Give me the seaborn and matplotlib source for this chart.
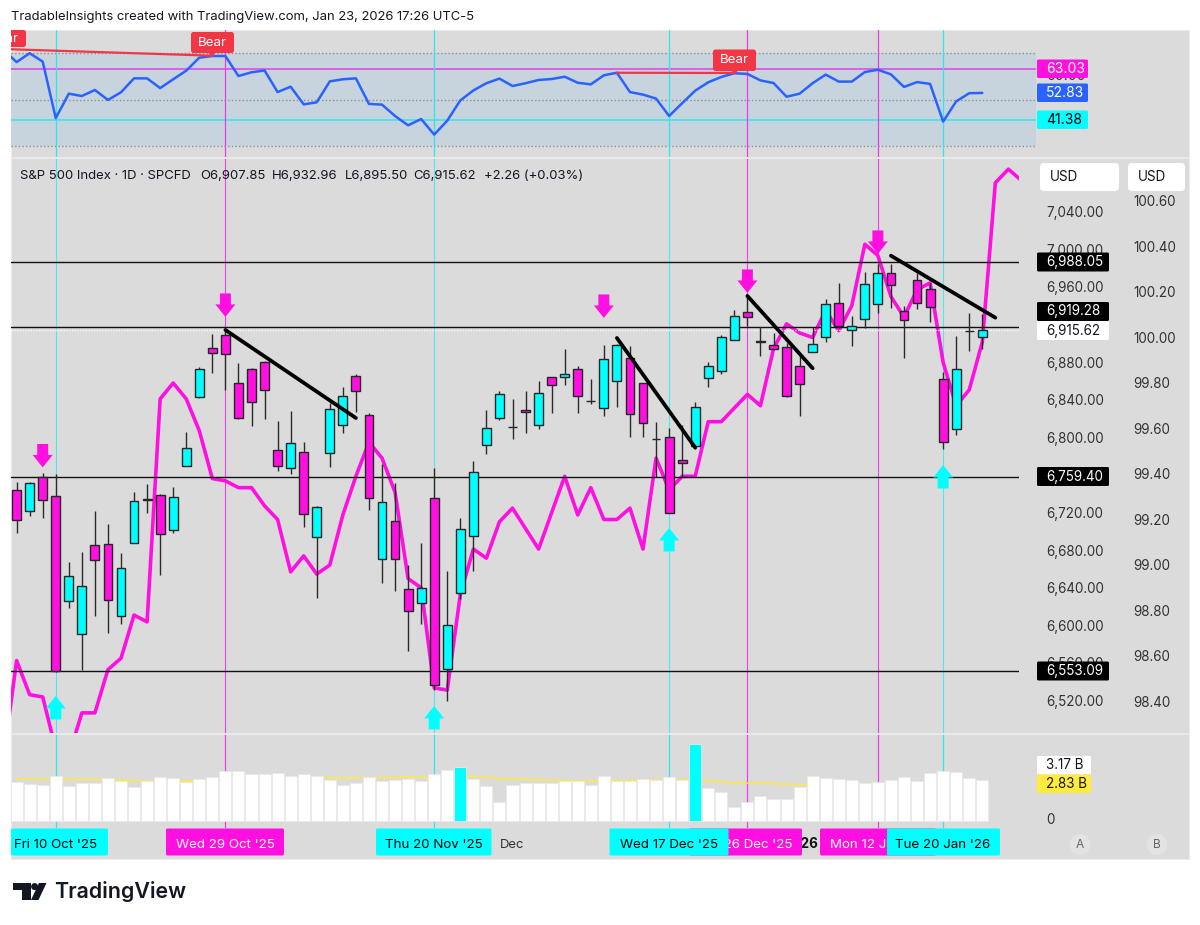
import numpy as np
import pandas as pd
import seaborn as sns
import matplotlib
matplotlib.use('Agg')
import matplotlib.pyplot as plt
from matplotlib.patches import Rectangle, FancyBboxPatch, Polygon, Circle

# daily candles, index 0 = first visible bar
opens = [6745.6, 6723.3, 6759.4, 6739.2, 6627.5, 6592.4, 6687.1, 6688.2, 6611.6, 6689.2,
         6735.8, 6740.3, 6703.0, 6771.1, 6844.5, 6896.6, 6910.4, 6859.4, 6874.3, 6881.7,
         6788.1, 6769.0, 6786.0, 6695.6, 6784.9, 6814.7, 6866.8, 6825.3, 6672.2, 6712.6,
         6640.3, 6625.4, 6737.1, 6555.2, 6636.0, 6696.7, 6793.4, 6822.2, 6812.9, 6830.5,
         6814.7, 6865.8, 6865.8, 6874.3, 6840.5, 6832.8, 6861.5, 6886.0, 6859.4, 6800.1,
         6802.0, 6777.5, 6792.4, 6864.7, 6872.1, 6905.1, 6934.9, 6903.0, 6899.8, 6897.7,
         6877.5, 6892.3, 6908.3, 6944.5, 6915.7, 6927.4, 6943.4, 6976.4, 6936.0, 6968.9,
         6959.3, 6863.6, 6810.5, 6914.9, 6907.85]
highs = [6754.1, 6754.1, 6763.7, 6762.6, 6669.0, 6679.6, 6723.3, 6709.4, 6678.6, 6743.5,
         6752.0, 6741.3, 6748.8, 6807.3, 6876.4, 6911.5, 6916.8, 6880.6, 6875.0, 6882.5,
         6819.0, 6829.6, 6796.6, 6728.6, 6838.1, 6855.1, 6869.0, 6827.5, 6773.2, 6753.0,
         6665.8, 6689.2, 6769.0, 6659.4, 6715.8, 6776.4, 6830.7, 6850.9, 6842.4, 6850.9,
         6861.5, 6865.8, 6895.5, 6877.5, 6863.6, 6899.8, 6900.9, 6898.7, 6859.4, 6817.9,
         6811.5, 6814.7, 6839.2, 6881.7, 6910.4, 6937.0, 6951.9, 6918.9, 6912.6, 6901.9,
         6889.2, 6918.9, 6948.7, 6965.7, 6930.6, 6977.4, 6985.9, 6985.9, 6941.3, 6976.4,
         6965.7, 6871.1, 6909.4, 6933.8, 6932.96]
lows = [6699.9, 6717.9, 6715.8, 6552.0, 6620.1, 6554.2, 6611.6, 6593.5, 6603.1, 6689.2,
        6721.1, 6655.2, 6699.9, 6771.1, 6843.4, 6870.0, 6851.9, 6821.1, 6813.6, 6821.1,
        6765.8, 6762.6, 6706.2, 6630.7, 6770.0, 6806.2, 6828.5, 6724.3, 6646.7, 6638.2,
        6574.4, 6603.1, 6532.9, 6521.2, 6629.7, 6659.4, 6783.9, 6820.0, 6799.8, 6806.2,
        6810.5, 6827.5, 6857.3, 6827.5, 6837.0, 6824.3, 6833.9, 6802.0, 6802.0, 6759.4,
        6721.1, 6759.4, 6789.2, 6855.1, 6869.0, 6905.1, 6920.0, 6888.1, 6895.5, 6844.5,
        6824.3, 6892.0, 6903.0, 6917.9, 6898.7, 6917.9, 6933.8, 6939.1, 6886.0, 6938.1,
        6924.3, 6789.2, 6804.1, 6893.4, 6895.50]
closes = [6713.7, 6753.0, 6734.9, 6552.6, 6654.1, 6643.5, 6671.1, 6628.6, 6662.6, 6733.9,
          6735.2, 6698.8, 6738.1, 6790.3, 6874.3, 6891.3, 6890.2, 6822.2, 6839.2, 6851.9,
          6771.1, 6795.6, 6720.1, 6727.5, 6831.7, 6845.6, 6850.9, 6737.1, 6732.8, 6672.2,
          6616.9, 6641.4, 6538.2, 6602.0, 6704.1, 6764.7, 6811.5, 6847.7, 6812.3, 6828.7,
          6848.8, 6857.3, 6869.0, 6845.6, 6839.9, 6884.9, 6899.8, 6826.4, 6816.8, 6799.5,
          6721.1, 6774.3, 6833.9, 6877.5, 6908.3, 6930.6, 6929.6, 6904.0, 6895.5, 6845.6,
          6858.3, 6900.9, 6943.4, 6920.0, 6920.0, 6964.7, 6976.4, 6963.6, 6926.4, 6944.5,
          6940.2, 6796.6, 6874.3, 6914.5, 6915.62]

# oscillator from index -1
rsi = [71.3, 66.1, 69.9, 66.3, 42.0, 52.5, 51.5, 54.1, 49.8, 53.1,
       59.1, 59.1, 54.9, 58.7, 62.4, 68.0, 68.7, 68.7, 60.1, 61.7,
       62.5, 53.2, 55.5, 47.9, 48.8, 57.8, 58.7, 59.1, 48.1, 47.8,
       42.9, 38.9, 41.6, 34.9, 40.9, 49.6, 53.9, 57.0, 59.0, 55.8,
       57.0, 58.4, 58.8, 59.8, 57.2, 56.5, 60.4, 61.5, 53.2, 52.1,
       50.4, 42.9, 48.4, 53.8, 57.4, 59.7, 61.3, 61.0, 58.2, 57.1,
       51.2, 52.5, 57.0, 60.7, 57.7, 57.7, 61.8, 62.8, 60.8, 55.4,
       57.5, 56.7, 40.5, 49.2, 52.7, 52.83]

# second scale line from index -1 to 77
overlay_line = [98.15, 98.58, 98.43, 98.42, 98.19, 98.16, 98.35, 98.35, 98.54, 98.59,
                98.78, 98.75, 99.73, 99.80, 99.73, 99.59, 99.38, 99.37, 99.34, 99.34,
                99.26, 99.20, 98.97, 99.04, 98.96, 99.00, 99.22, 99.39, 99.54, 99.47,
                99.32, 98.94, 98.90, 98.46, 98.45, 98.87, 99.07, 99.03, 99.19, 99.25,
                99.16, 99.07, 99.23, 99.39, 99.22, 99.34, 99.20, 99.20, 99.25, 99.07,
                99.47, 99.33, 99.39, 99.39, 99.63, 99.63, 99.69, 99.75, 99.70, 99.95,
                100.06, 100.02, 100.00, 100.12, 100.03, 100.14, 100.41, 100.36, 100.18, 100.09,
                100.21, 100.24, 99.89, 99.70, 99.77, 99.98, 100.68, 100.74, 100.69]

# volume in billions
volume = [2.99, 2.84, 2.73, 3.45, 2.68, 2.89, 2.89, 3.27, 3.07, 2.58,
          3.07, 3.38, 3.27, 2.99, 3.20, 3.35, 3.84, 3.81, 3.58, 3.63,
          3.69, 3.45, 3.56, 3.45, 3.12, 2.76, 2.91, 3.35, 3.07, 3.12,
          3.22, 3.09, 3.63, 3.94, 4.10, 3.20, 2.63, 1.44, 2.73, 2.89,
          2.91, 2.91, 3.04, 3.09, 2.73, 3.43, 3.07, 3.07, 3.20, 3.12,
          3.38, 3.17, 5.90, 2.53, 2.19, 1.03, 1.42, 1.93, 1.70, 1.65,
          2.58, 3.43, 3.25, 3.20, 3.12, 2.91, 2.99, 3.17, 3.35, 3.09,
          3.71, 3.84, 3.76, 3.25, 3.17]
volume_ma = [3.20, 3.20, 3.17, 3.17, 3.17, 3.17, 3.17, 3.17, 3.12, 3.09,
             3.04, 3.04, 3.04, 3.04, 3.04, 3.12, 3.20, 3.22, 3.25, 3.27,
             3.30, 3.30, 3.30, 3.30, 3.30, 3.30, 3.30, 3.30, 3.30, 3.32,
             3.35, 3.35, 3.35, 3.35, 3.43, 3.40, 3.35, 3.25, 3.20, 3.17,
             3.14, 3.12, 3.09, 3.07, 3.04, 3.04, 3.09, 3.09, 3.12, 3.12,
             3.14, 3.14, 3.17, 3.07, 2.99, 2.91, 2.89, 2.89, 2.86, 2.81,
             2.78, 2.78, 2.78, 2.81, 2.81, 2.81, 2.81, 2.81, 2.81, 2.81,
             2.84, 2.84, 2.84, 2.84, 2.83]
high_volume_bars = [34, 52]

cyan_days = [3, 32, 50, 71]
magenta_days = [16, 56, 66]
price_levels = [6988.05, 6919.28, 6759.40, 6553.09]
last_close = 6915.62
rsi_levels = [70, 50, 30]
price_ticks = [7040, 7000, 6960, 6920, 6880, 6840, 6800, 6760, 6720, 6680, 6640, 6600, 6560, 6520]
second_ticks = [100.6, 100.4, 100.2, 100.0, 99.8, 99.6, 99.4, 99.2, 99.0, 98.8, 98.6, 98.4]

down_arrows = [(2, 6769.5), (16, 6929.6), (45, 6928.5), (56, 6955.1), (66, 6996.6)]
up_arrows = [(3, 6526.5), (32, 6515.9), (50, 6705.2), (71, 6772.1)]
trend_lines = [((16, 6915.7), (26, 6822.1)), ((46, 6907.2), (52, 6790.6)),
               ((56, 6951.9), (61, 6875.0)), ((67, 6994.7), (75, 6928.8))]
bear_lines = [((-1, 71.7), (15, 68.85)), ((46, 61.5), (55, 61.4))]

BG = '#dbdbdb'
CYAN = '#00ffff'
MAGENTA = '#ff10e0'
BLUE = '#2962ff'
RED = '#f23645'
YELLOW = '#ffeb3b'
BAND = '#c7d3dd'
INK = '#131722'
AXTXT = '#333333'

sns.set_theme(style='white')
plt.rcParams['font.family'] = ['Inter', 'DejaVu Sans']

W, H = 1200, 925
fig = plt.figure(figsize=(W / 100, H / 100), dpi=100, facecolor='white')
fig.add_artist(Rectangle((11 / W, 1 - 859 / H), 1178 / W, 829.5 / H, transform=fig.transFigure,
                         facecolor=BG, edgecolor='#ececec', lw=0.8, zorder=-1))


def pane(x0, y0, x1, y1):
    ax = fig.add_axes([x0 / W, 1 - y1 / H, (x1 - x0) / W, (y1 - y0) / H])
    ax.patch.set_visible(False)
    return ax


def bare(ax):
    sns.despine(ax=ax, left=True, right=True, top=True, bottom=True)
    ax.set_xlabel('')
    ax.set_ylabel('')
    ax.set_xticks([])


# bar index <-> pixel: x = 16.6 + 13.05 * i
xlim_main = ((11 - 16.6) / 13.05, (1019 - 16.6) / 13.05)
xlim_rsi = ((11 - 16.6) / 13.05, (1036 - 16.6) / 13.05)

# ---- RSI pane
ax_rsi = pane(11, 30, 1036, 157)
ax_rsi.axhspan(30, 70, color=BAND, lw=0, zorder=0)
for lv in rsi_levels:
    ax_rsi.axhline(lv, color='#8a8f96', lw=1, ls=(0, (1, 1.6)), zorder=1)
ax_rsi.axhline(63.03, color='#e040e6', lw=1.1, zorder=1.5)
ax_rsi.axhline(41.38, color='#2ee6ec', lw=1.1, zorder=1.5)
for d in cyan_days:
    ax_rsi.axvline(d, color='#2ee6ec', lw=0.9, zorder=1.6)
for d in magenta_days:
    ax_rsi.axvline(d, color='#e83ce6', lw=0.9, zorder=1.6)
sns.lineplot(x=np.arange(-1, 75), y=rsi, ax=ax_rsi, color=BLUE, lw=1.8, errorbar=None, zorder=3)
for (a, b) in bear_lines:
    ax_rsi.plot([a[0], b[0]], [a[1], b[1]], color=RED, lw=1.6, zorder=4)
ax_rsi.set_xlim(*xlim_rsi)
ax_rsi.set_ylim(30 - 11 / 2.325, 70 + 23 / 2.325)
bare(ax_rsi)
ax_rsi.set_yticks([])

# ---- price pane: second scale underneath so candles stay on top
ax_sec = pane(11, 158, 1019, 733)
for d in cyan_days:
    ax_sec.axvline(d, color='#4ee8ee', lw=0.8, zorder=1)
for d in magenta_days:
    ax_sec.axvline(d, color='#f23ce6', lw=0.8, zorder=1)
sns.lineplot(x=np.arange(-1, 78), y=overlay_line, ax=ax_sec, color=MAGENTA, lw=2.6,
             errorbar=None, zorder=2)
ax_sec.set_xlim(*xlim_main)
ax_sec.set_ylim(100.6 - 532 / 227.5, 100.6 + 43 / 227.5)
bare(ax_sec)

ax_price = ax_sec.twinx()
ax_price.patch.set_visible(False)
# twinx moves the first axis' ticks to the left, so set them on the right afterwards
ax_sec.yaxis.tick_right()
ax_sec.set_yticks(second_ticks, [f'{t:.2f}' for t in second_ticks])
ax_sec.tick_params(axis='y', length=0, pad=82, labelsize=9.7, labelcolor=AXTXT)
for lv in price_levels:
    ax_price.axhline(lv, color='#111111', lw=1.0, zorder=1)
ax_price.axhline(last_close, color='white', lw=0.9, ls=(0, (1, 1.2)), zorder=1)

idx = np.arange(len(closes))
o = np.array(opens)
c = np.array(closes)
colors = [CYAN if c[i] >= o[i] else MAGENTA for i in idx]
ax_price.vlines(idx, lows, highs, color='#2a2a2a', lw=1.0, zorder=3)
ax_price.bar(idx, np.abs(c - o), bottom=np.minimum(o, c), width=0.68, color=colors,
             edgecolor='#262626', lw=1.0, zorder=4)

# arrow sizes are pixels turned into bars / price points
dx_head, dx_shaft = 10 / 13.05, 5.5 / 13.05
dy_head, dy_total = 12.5 * 1.0635, 23.5 * 1.0635
for i, tip in down_arrows:
    ax_price.add_patch(Polygon([(i, tip), (i - dx_head, tip + dy_head), (i - dx_shaft, tip + dy_head),
                                (i - dx_shaft, tip + dy_total), (i + dx_shaft, tip + dy_total),
                                (i + dx_shaft, tip + dy_head), (i + dx_head, tip + dy_head)],
                               color=MAGENTA, lw=0, zorder=5))
for i, tip in up_arrows:
    ax_price.add_patch(Polygon([(i, tip), (i - dx_head, tip - dy_head), (i - dx_shaft, tip - dy_head),
                                (i - dx_shaft, tip - dy_total), (i + dx_shaft, tip - dy_total),
                                (i + dx_shaft, tip - dy_head), (i + dx_head, tip - dy_head)],
                               color=CYAN, lw=0, zorder=5))
for (a, b) in trend_lines:
    ax_price.plot([a[0], b[0]], [a[1], b[1]], color='black', lw=2.7, solid_capstyle='round', zorder=6)

ax_price.set_xlim(*xlim_main)
ax_price.set_ylim(6487.1, 7098.6)
sns.despine(ax=ax_price, left=True, right=True, top=True, bottom=True)
ax_price.set_ylabel('')
ax_price.set_yticks(price_ticks, [f'{t:,.2f}' for t in price_ticks])
ax_price.tick_params(axis='y', length=0, pad=19.4, labelsize=9.7, labelcolor=AXTXT)
for t in ax_price.get_yticklabels():
    t.set_verticalalignment('center')

# ---- volume pane
ax_vol = pane(11, 734, 1019, 828)
for d in cyan_days:
    ax_vol.axvline(d, color='#2ee6ec', lw=0.9, zorder=0.4)
for d in magenta_days:
    ax_vol.axvline(d, color='#f23ce6', lw=0.9, zorder=0.4)
sns.lineplot(x=idx, y=volume_ma, ax=ax_vol, color=YELLOW, lw=1.1, errorbar=None, zorder=0.5)
vol_df = pd.DataFrame({'bar': idx, 'volume': volume,
                       'kind': ['high' if i in high_volume_bars else 'normal' for i in idx]})
sns.barplot(data=vol_df, x='bar', y='volume', hue='kind', palette={'high': CYAN, 'normal': 'white'},
            dodge=False, native_scale=True, width=0.92, saturation=1, legend=False, ax=ax_vol,
            edgecolor='#e9e9e9', linewidth=0.6, zorder=2)
ax_vol.set_xlim(*xlim_main)
ax_vol.set_ylim(-7.5 / 12.93, 86.5 / 12.93)
bare(ax_vol)
ax_vol.set_yticks([])

# ---- pixel overlay for tags, labels and logo
ov = fig.add_axes([0, 0, 1, 1], zorder=10)
ov.set_xlim(0, W)
ov.set_ylim(H, 0)
ov.axis('off')
ov.patch.set_visible(False)


def box(x0, y0, x1, y1, face, z=2, r=1.5, edge='none'):
    p = FancyBboxPatch((x0 + r, y0 + r), x1 - x0 - 2 * r, y1 - y0 - 2 * r,
                       boxstyle=f'round,pad={r},rounding_size={r}', fc=face, ec=edge, lw=0.6, zorder=z)
    ov.add_patch(p)
    return p


def label(x, y, s, color=INK, size=9.7, ha='left', z=3, **kw):
    return ov.text(x, y, s, color=color, fontsize=size, ha=ha, va='center', zorder=z, **kw)


def tag(x0, y0, x1, y1, face, s, color, tx, z=2, ha='left', size=9.7):
    box(x0, y0, x1, y1, face, z=z)
    label(tx, (y0 + y1) / 2, s, color=color, z=z + 0.1, ha=ha, size=size)


# pane separators
for y in (157.5, 733.5):
    ov.plot([11, 1189], [y, y], color='#ececec', lw=1.2, zorder=1)

label(11, 17, 'TradableInsights created with TradingView.com, Jan 23, 2026 17:26 UTC-5', size=9.4)

for x, s in [(20, 'S&P 500 Index · 1D · SPCFD'), (200, 'O6,907.85'), (272, 'H6,932.96'),
             (345, 'L6,895.50'), (413, 'C6,915.62'), (484, '+2.26 (+0.03%)')]:
    label(x, 176, s, size=9.45)

# rsi tags
label(1046, 76.5, '60.00', color=AXTXT, size=10, z=1.5)
tag(1037, 59.5, 1088, 78, MAGENTA, '63.03', 'white', 1046, size=10)
tag(1037, 83.5, 1088, 102, BLUE, '52.83', 'white', 1046, size=10)
tag(1037, 110.5, 1088, 129, CYAN, '41.38', 'black', 1046, size=10)

# bear callouts
clip = Rectangle((11, 30), 1178, 127, transform=ov.transData)
for (x0, y0, x1, y1, tip_x, tip_y) in [(-17, 30, 26, 47, None, None), (191, 32, 234, 53, 212, 56.5),
                                       (713, 49.5, 756, 71, 734.5, 73.5)]:
    b = box(x0, y0, x1, y1, RED, z=4, r=2.5)
    b.set_clip_path(clip)
    if tip_x is not None:
        ov.add_patch(Polygon([(tip_x - 4, y1 - 0.5), (tip_x + 4, y1 - 0.5), (tip_x, tip_y)], color=RED, lw=0, zorder=4))
    t = label((x0 + x1) / 2, (y0 + y1) / 2, 'Bear', color='white', ha='center', size=9.6, z=4.1)
    t.set_clip_path(clip)

# price tags
for y, s in [(262, '6,988.05'), (311.5, '6,919.28'), (476.5, '6,759.40'), (671, '6,553.09')]:
    tag(1037, y - 9.5, 1109, y + 9.5, 'black', s, 'white', 1046)
tag(1037, 321, 1109, 340, 'white', '6,915.62', INK, 1046)

# currency buttons
box(1040, 163, 1119, 191, 'white', r=4)
box(1128, 163, 1185, 191, 'white', r=4)
label(1050, 177, 'USD')
label(1138, 177, 'USD')

# volume tags
tag(1037, 756, 1091, 774.5, 'white', '3.17 B', INK, 1046)
tag(1037, 774.5, 1091, 793, YELLOW, '2.83 B', INK, 1046)
label(1046, 820, '0', color=AXTXT)

# time axis
label(500, 845, 'Dec', color=AXTXT, size=9.4)
label(801, 844.5, '2026', color='#111111', ha='center', weight='bold', z=4)
for x0, x1, face, s, col, cx, z in [
        (-5, 108, CYAN, "Fri 10 Oct '25", 'black', 56, 5),
        (166, 284, MAGENTA, "Wed 29 Oct '25", 'white', 225.5, 5),
        (376, 491.5, CYAN, "Thu 20 Nov '25", 'black', 434, 5),
        (689, 802, MAGENTA, "Fri 26 Dec '25", 'white', 748, 5),
        (609.5, 728.5, CYAN, "Wed 17 Dec '25", 'black', 669, 6),
        (820, 936, MAGENTA, "Mon 12 Jan '26", 'white', 878, 5),
        (887, 1000, CYAN, "Tue 20 Jan '26", 'black', 943, 6)]:
    p = box(max(x0, 11), 828.5, x1, 855.5, face, z=z)
    label(cx, 844.5, s, color=col, ha='center', z=z + 0.1, size=9.6)

for x, s in [(1080, 'A'), (1157, 'B')]:
    ov.add_patch(Circle((x, 844.5), 10.5, fc='#e3e3e3', ec='none', zorder=2))
    label(x, 844.5, s, color='#666666', ha='center', size=8.6)

# logo
ov.add_patch(Polygon([(13, 883), (30.5, 883), (30.5, 900), (22, 900), (22, 890), (13, 890)], color=INK, lw=0))
ov.add_patch(Circle((34.6, 886.6), 3.5, color=INK, lw=0))
ov.add_patch(Polygon([(39, 883), (46.5, 883), (38.5, 900), (31, 900)], color=INK, lw=0))
label(54, 892, 'TradingView', size=15.4, weight='semibold')

fig.savefig('out.png', dpi=100)
